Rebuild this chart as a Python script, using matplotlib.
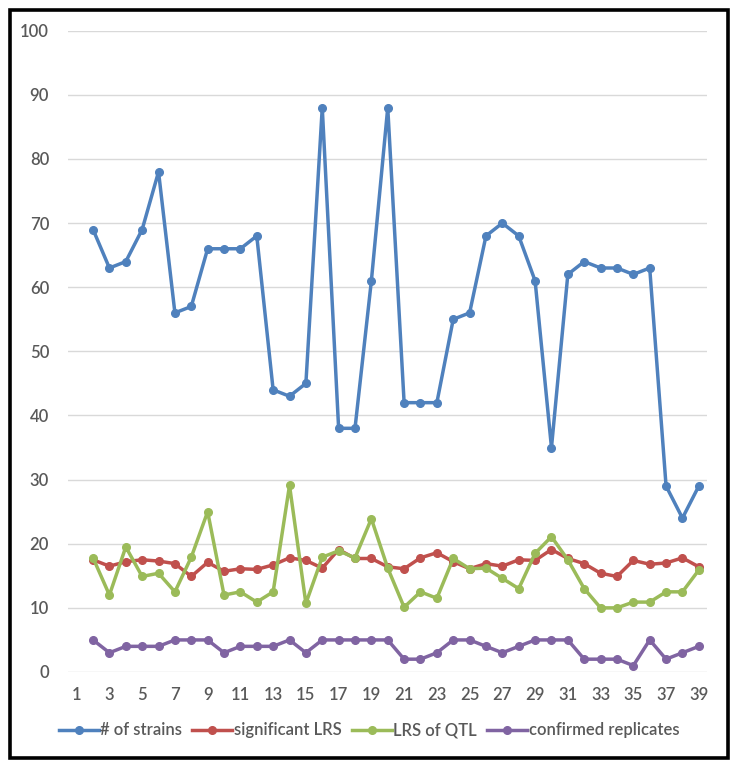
import numpy as np
import matplotlib.pyplot as plt
from matplotlib.patches import Rectangle

plt.rcParams['font.family'] = ['Lato', 'DejaVu Sans']

x = list(range(2, 40))

strains = [69, 63, 64, 69, 78, 56, 57, 66, 66, 66, 68, 44, 43, 45, 88, 38, 38, 61, 88,
           42, 42, 42, 55, 56, 68, 70, 68, 61, 35, 62, 64, 63, 63, 62, 63, 29, 24, 29]
sig_lrs = [17.5, 16.5, 17.2, 17.5, 17.3, 16.9, 14.9, 17.1, 15.7, 16.1, 16.0, 16.7, 17.8,
           17.4, 16.2, 19.1, 17.7, 17.7, 16.4, 16.1, 17.8, 18.6, 17.2, 16.1, 16.9, 16.5,
           17.5, 17.4, 19.1, 17.7, 16.9, 15.4, 14.9, 17.4, 16.8, 17.0, 17.8, 16.4]
lrs_qtl = [17.8, 12.0, 19.5, 14.9, 15.4, 12.5, 17.9, 25.0, 12.0, 12.5, 10.9, 12.5, 29.1,
           10.7, 17.9, 18.9, 17.8, 23.9, 16.2, 10.1, 12.5, 11.5, 17.7, 16.1, 16.2, 14.6,
           13.0, 18.5, 21.1, 17.5, 13.0, 10.0, 10.0, 10.9, 10.9, 12.5, 12.5, 15.9]
replicates = [5, 3, 4, 4, 4, 5, 5, 5, 3, 4, 4, 4, 5, 3, 5, 5, 5, 5, 5, 2, 2, 3, 5, 5,
              4, 3, 4, 5, 5, 5, 2, 2, 2, 1, 5, 2, 3, 4]

series = [
    ('# of strains', strains, '#4F81BD'),
    ('significant LRS', sig_lrs, '#C0504D'),
    ('LRS of QTL', lrs_qtl, '#9BBB59'),
    ('confirmed replicates', replicates, '#8064A2'),
]

fig = plt.figure(figsize=(7.38, 7.68), dpi=100)
ax = fig.add_axes([0.0928, 0.125, 0.8652, 0.835])

for name, vals, col in series:
    ax.plot(x, vals, color=col, lw=2.5, marker='o', markersize=5.5, label=name)

ax.set_xlim(0.5, 39.5)
ax.set_ylim(0, 100)
ax.set_yticks(range(0, 101, 10))
ax.set_xticks(range(1, 40, 2))
ax.grid(axis='y', color='#D9D9D9', lw=1)
ax.set_axisbelow(True)
for s in ax.spines.values():
    s.set_visible(False)
ax.tick_params(length=0, labelsize=12, labelcolor='#595959')
ax.tick_params(axis='y', pad=14)
ax.tick_params(axis='x', pad=11)
for lbl in ax.get_xticklabels() + ax.get_yticklabels():
    lbl.set_fontweight('semibold')

leg = fig.legend(loc='center', bbox_to_anchor=(0.5, 0.049), ncol=4, frameon=False,
                 fontsize=12, labelcolor='#595959', handlelength=2.4, handletextpad=0.1,
                 columnspacing=0.6, numpoints=1)
for t in leg.get_texts():
    t.set_fontweight('semibold')

fig.patches.append(Rectangle((0.0136, 0.013), 0.9728, 0.9746, transform=fig.transFigure,
                             fill=False, edgecolor='black', lw=2.6))

fig.savefig('out.png', dpi=100)
